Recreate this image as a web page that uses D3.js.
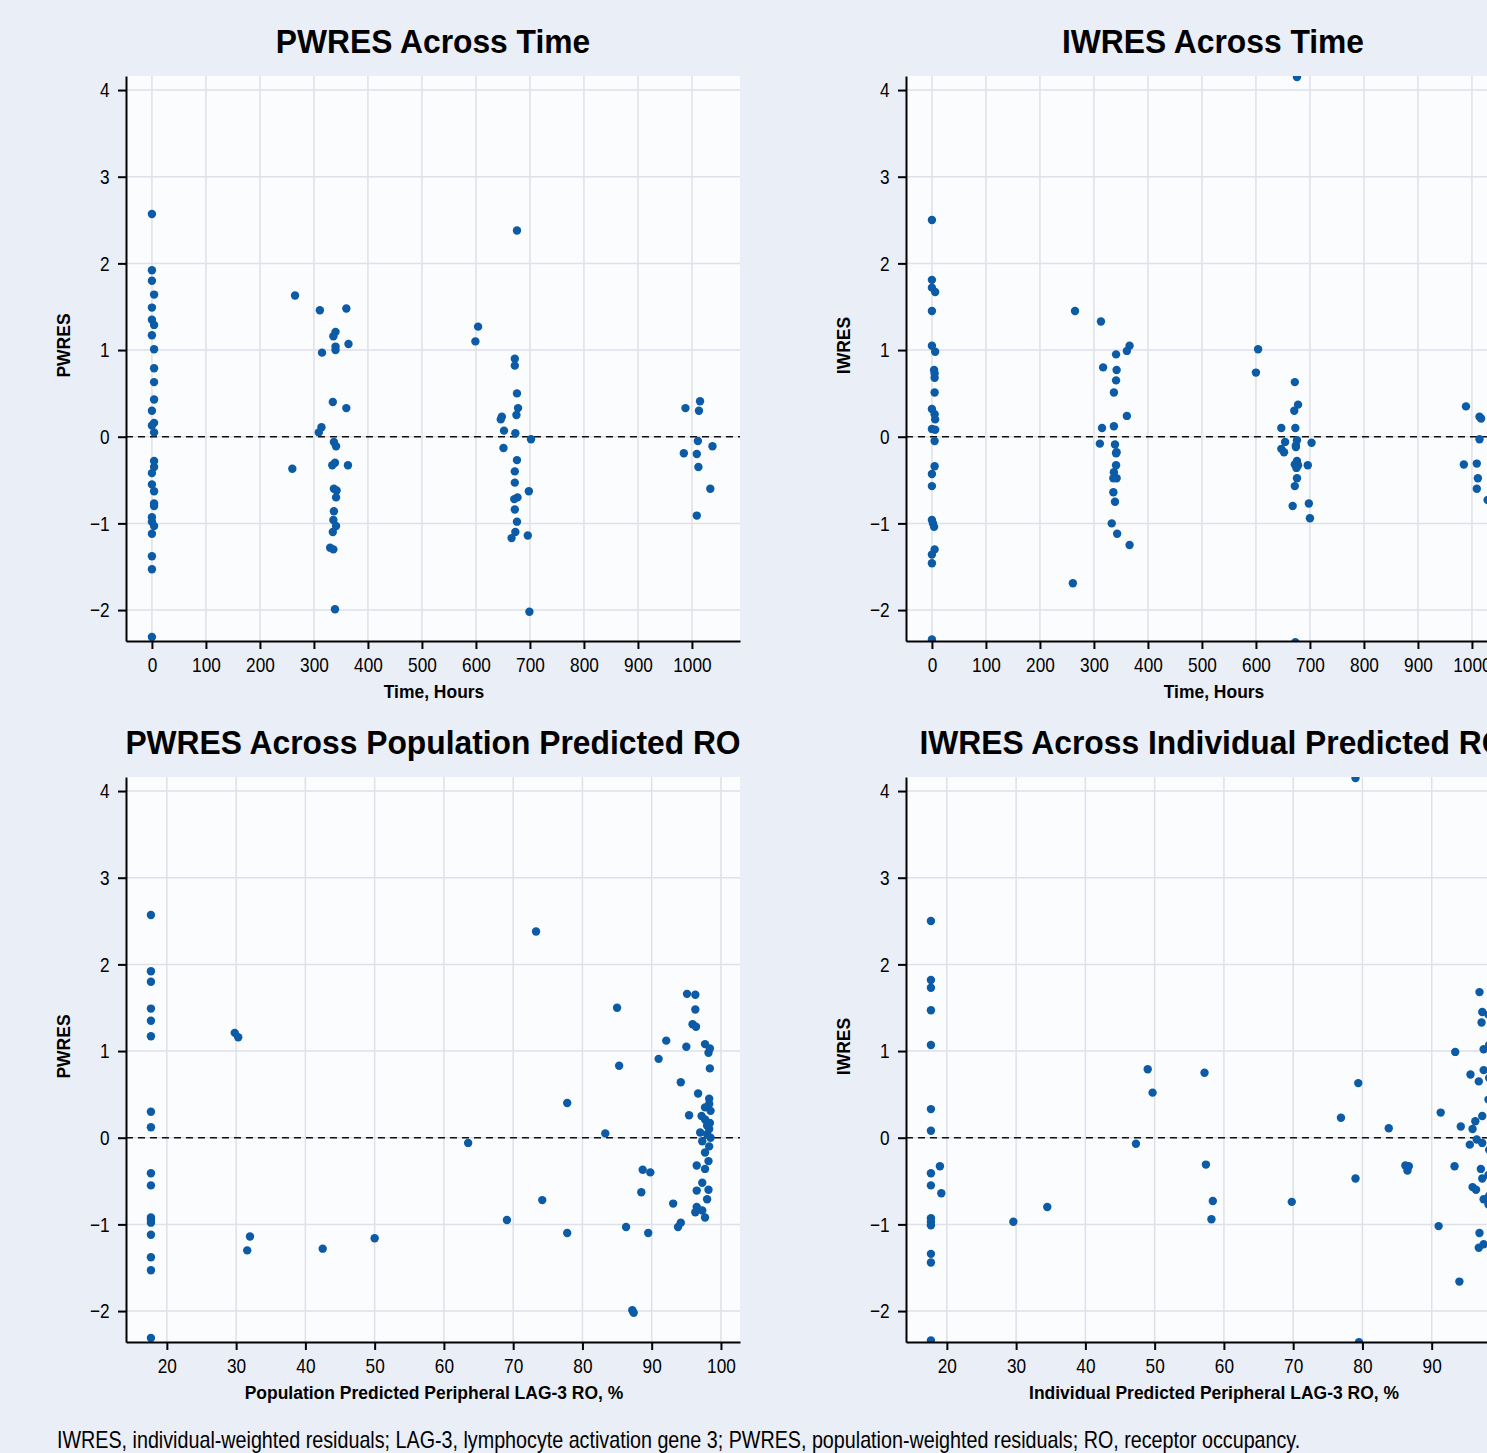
<!DOCTYPE html>
<html>
<head>
<meta charset="utf-8">
<script src="https://cdn.jsdelivr.net/npm/d3@7"></script>
<style>
  html, body { margin: 0; padding: 0; overflow: hidden; background: #eaeef6; }
  svg { display: block; }
  text { font-family: "Liberation Sans", Arial, sans-serif; fill: #000; }
</style>
</head>
<body>
<script>
// ---- tick values ----
const yTicks = [-2, -1, 0, 1, 2, 3, 4];
const timeTicks = [0, 100, 200, 300, 400, 500, 600, 700, 800, 900, 1000];
const roTicks = [20, 30, 40, 50, 60, 70, 80, 90, 100];

// ---- PWRES vs time [hours, PWRES] ----
const pwresByTime = [
  [0,2.57],[0,1.92],[0,1.80],[4,1.64],[0,1.49],[0,1.35],[4,1.29],[0,1.17],[4,1.01],[4,0.79],
  [4,0.63],[4,0.43],[0,0.30],[4,0.16],[0,0.13],[4,0.05],[4,-0.28],[4,-0.35],[0,-0.42],[0,-0.55],
  [4,-0.63],[4,-0.77],[4,-0.80],[0,-0.93],[0,-0.98],[4,-1.03],[0,-1.12],[0,-1.38],[0,-1.53],[0,-2.31],
  [265,1.63],[260,-0.37],[311,1.46],[360,1.48],[340,1.21],[336,1.16],[340,1.04],[340,1.00],[364,1.07],[315,0.97],
  [335,0.40],[360,0.33],[314,0.11],[309,0.05],[337,-0.06],[341,-0.11],[339,-0.30],[334,-0.33],[363,-0.33],[337,-0.60],
  [342,-0.62],[341,-0.70],[337,-0.86],[336,-0.96],[341,-1.03],[335,-1.10],[330,-1.28],[336,-1.30],[339,-1.99],
  [676,2.38],[604,1.27],[599,1.10],[672,0.90],[672,0.82],[676,0.50],[678,0.33],[675,0.25],[648,0.23],[646,0.20],
  [652,0.07],[673,0.04],[702,-0.03],[651,-0.13],[676,-0.27],[672,-0.40],[672,-0.53],[698,-0.63],[677,-0.70],[671,-0.72],
  [672,-0.84],[676,-0.98],[673,-1.10],[666,-1.17],[696,-1.14],[699,-2.02],
  [988,0.33],[1015,0.41],[1013,0.30],[1011,-0.05],[1038,-0.11],[985,-0.19],[1009,-0.20],[1012,-0.35],[1034,-0.60],[1009,-0.91]
];

// ---- IWRES vs time [hours, IWRES] ----
const iwresByTime = [
  [0,2.50],[0,1.81],[0,1.72],[6,1.67],[0,1.45],[0,1.05],[6,0.98],[4,0.77],[5,0.73],[5,0.68],
  [5,0.51],[0,0.32],[5,0.26],[6,0.20],[0,0.09],[6,0.08],[5,-0.05],[5,-0.34],[0,-0.43],[0,-0.57],
  [0,-0.96],[2,-1.00],[4,-1.04],[5,-1.30],[0,-1.36],[0,-1.46],[0,-2.34],
  [265,1.45],[313,1.33],[366,1.05],[361,0.99],[341,0.95],[317,0.80],[342,0.77],[341,0.65],[337,0.51],[361,0.24],
  [315,0.10],[337,0.12],[311,-0.08],[339,-0.09],[342,-0.18],[341,-0.19],[341,-0.33],[337,-0.41],[342,-0.48],[336,-0.48],
  [336,-0.64],[339,-0.75],[333,-1.00],[343,-1.12],[366,-1.25],[261,-1.69],
  [676,4.15],[604,1.01],[600,0.74],[672,0.63],[678,0.37],[671,0.30],[647,0.10],[673,0.10],[654,-0.06],[676,-0.04],
  [703,-0.07],[674,-0.10],[647,-0.14],[652,-0.18],[674,-0.12],[676,-0.28],[672,-0.32],[678,-0.33],[675,-0.36],[696,-0.33],
  [676,-0.48],[672,-0.57],[668,-0.80],[698,-0.77],[700,-0.94],[673,-2.37],
  [989,0.35],[1014,0.23],[1017,0.21],[1014,-0.03],[985,-0.32],[1009,-0.31],[1011,-0.48],[1009,-0.60],[1029,-0.73]
];

// ---- PWRES vs population predicted RO [%, PWRES] ----
const pwresByPredRO = [
  [17.7,2.57],[17.7,1.92],[17.7,1.80],[17.7,1.49],[17.7,1.35],[17.7,1.17],[17.7,0.30],[17.7,0.12],[17.7,-0.41],
  [17.7,-0.55],[17.7,-0.92],[17.7,-0.95],[17.7,-0.98],[17.7,-1.12],[17.7,-1.38],[17.7,-1.53],[17.7,-2.31],
  [29.8,1.21],[30.3,1.16],[32.0,-1.14],[31.6,-1.30],[42.5,-1.28],[50.0,-1.16],[63.5,-0.06],[69.1,-0.95],[73.3,2.38],
  [74.2,-0.72],[77.8,0.40],[77.8,-1.10],[83.3,0.05],[85.0,1.50],[85.3,0.83],[86.3,-1.03],[87.2,-1.99],[87.4,-2.02],
  [88.7,-0.37],[89.8,-0.40],[88.5,-0.63],[89.5,-1.10],[91.0,0.91],[92.1,1.12],[93.1,-0.76],[93.8,-1.03],[94.2,-0.98],
  [94.2,0.64],[95.0,1.05],[95.1,1.66],[95.4,0.26],[95.9,1.31],[96.3,1.65],[96.3,1.48],[96.4,1.28],[96.3,-0.86],
  [96.5,-0.32],[96.5,-0.61],[96.5,-0.80],[96.7,0.51],[97.0,0.06],[97.2,0.25],[97.3,-0.04],[97.3,-0.52],[97.3,-0.84],
  [97.7,1.08],[97.7,0.35],[97.7,0.21],[97.7,-0.17],[97.7,-0.36],[97.7,-0.92],[98.0,0.14],[98.0,0.04],[98.0,-0.71],
  [98.2,0.98],[98.2,-0.27],[98.2,-0.60],[98.3,0.45],[98.3,0.39],[98.3,0.10],[98.3,-0.10],[98.4,1.03],[98.4,0.80],
  [98.4,0.17],[98.5,0.31],[98.5,0.00]
];

// ---- IWRES vs individual predicted RO [%, IWRES] ----
const iwresByIndRO = [
  [17.7,2.50],[17.7,1.82],[17.7,1.73],[17.7,1.47],[17.7,1.07],[17.7,0.33],[17.7,0.08],[17.7,-0.41],[17.7,-0.55],
  [17.7,-0.93],[17.7,-0.97],[17.7,-1.01],[17.7,-1.34],[17.7,-1.44],[17.7,-2.34],
  [19.0,-0.33],[19.2,-0.64],[29.6,-0.97],[34.5,-0.80],[47.3,-0.07],[49.0,0.79],[49.7,0.52],[57.2,0.75],[57.4,-0.31],
  [58.4,-0.73],[58.2,-0.94],[69.8,-0.74],
  [79.4,0.63],[76.9,0.23],[83.8,0.11],[79.0,-0.47],[86.2,-0.32],[86.7,-0.33],[86.5,-0.38],[91.3,0.29],[93.4,0.99],
  [93.3,-0.33],[91.0,-1.02],[94.2,0.13],[95.6,0.73],[96.8,0.65],[96.9,1.68],[97.3,1.45],[97.2,1.33],[97.5,1.02],
  [97.5,0.78],[96.3,0.19],[95.9,0.10],[97.3,0.25],[95.5,-0.08],[96.5,-0.02],[97.3,-0.06],[97.1,-0.36],[97.3,-0.47],
  [95.9,-0.57],[96.4,-0.60],[97.5,-0.71],[96.9,-1.10],[96.8,-1.27],[97.5,-1.23],[94.0,-1.66],[79.0,4.15],[79.5,-2.36],
  [98.2,1.42],[98.3,1.07],[98.3,0.69],[98.2,0.44],[98.3,-0.14],[98.2,-0.43],[98.3,-0.67],[98.2,-0.77]
];

const footnote = "IWRES, individual-weighted residuals; LAG-3, lymphocyte activation gene 3; PWRES, population-weighted residuals; RO, receptor occupancy.";

// ---- layout ----
const W = 1530, H = 1453;
const plotW = 614, plotH = 565;
const yDomain = [-2.357, 4.162];
const timeDomain = [-48, 1089];
const roDomain = [14.1, 102.75];

const panels = [
  { title: "PWRES Across Time", xLabel: "Time, Hours", yLabel: "PWRES",
    data: pwresByTime, xDomain: timeDomain, xTicks: timeTicks, left: 126, top: 76 },
  { title: "IWRES Across Time", xLabel: "Time, Hours", yLabel: "IWRES",
    data: iwresByTime, xDomain: timeDomain, xTicks: timeTicks, left: 906, top: 76 },
  { title: "PWRES Across Population Predicted RO", xLabel: "Population Predicted Peripheral LAG-3 RO, %", yLabel: "PWRES",
    data: pwresByPredRO, xDomain: roDomain, xTicks: roTicks, left: 126, top: 777 },
  { title: "IWRES Across Individual Predicted RO", xLabel: "Individual Predicted Peripheral LAG-3 RO, %", yLabel: "IWRES",
    data: iwresByIndRO, xDomain: roDomain, xTicks: roTicks, left: 906, top: 777 }
];

const style = {
  title: { size: 34, weight: "bold", sx: 0.935 },
  axisLabel: { size: 19, weight: "bold", sx: 0.92 },
  tick: { size: 21, sx: 0.82 },
  note: { size: 23, sx: 0.858 },
  dot: "#0b5ba7",
  grid: "#dfe0e8",
  plotBg: "#fbfcfe"
};

const fmt = d3.format("d");

const svg = d3.select("body").append("svg").attr("width", W).attr("height", H);

// condensed text helper: horizontal squeeze around the anchor point
function squeezedText(parent, str, x, y, s, anchor, rotate) {
  return parent.append("text")
    .attr("transform", `translate(${x},${y})${rotate ? ` rotate(${rotate})` : ""} scale(${s.sx},1)`)
    .attr("text-anchor", anchor)
    .style("font-size", s.size + "px")
    .style("font-weight", s.weight || "normal")
    .text(str);
}

function styleAxis(a) {
  a.select(".domain").attr("stroke", "#000").attr("stroke-width", 2);
  a.selectAll(".tick line").attr("stroke", "#000").attr("stroke-width", 2);
  a.selectAll(".tick text")
    .attr("font-family", null)
    .style("font-size", style.tick.size + "px")
    .attr("fill", "#000")
    .attr("transform", `scale(${style.tick.sx},1)`);
}

panels.forEach((p, i) => {
  const x = d3.scaleLinear().domain(p.xDomain).range([p.left, p.left + plotW]);
  const y = d3.scaleLinear().domain(yDomain).range([p.top + plotH, p.top]);
  const g = svg.append("g");

  g.append("rect")
    .attr("x", p.left).attr("y", p.top)
    .attr("width", plotW).attr("height", plotH)
    .attr("fill", style.plotBg);

  // grid
  g.append("g").selectAll("line").data(p.xTicks).join("line")
    .attr("x1", d => x(d)).attr("x2", d => x(d))
    .attr("y1", p.top).attr("y2", p.top + plotH)
    .attr("stroke", style.grid).attr("stroke-width", 1.5);
  g.append("g").selectAll("line").data(yTicks).join("line")
    .attr("x1", p.left).attr("x2", p.left + plotW)
    .attr("y1", d => y(d)).attr("y2", d => y(d))
    .attr("stroke", style.grid).attr("stroke-width", 1.5);

  // zero reference line
  g.append("line")
    .attr("x1", p.left).attr("x2", p.left + plotW)
    .attr("y1", y(0)).attr("y2", y(0))
    .attr("stroke", "#111").attr("stroke-width", 1.6)
    .attr("stroke-dasharray", "7,5");

  // points, clipped to the plot area
  const clipId = "clip" + i;
  svg.append("clipPath").attr("id", clipId).append("rect")
    .attr("x", p.left).attr("y", p.top).attr("width", plotW).attr("height", plotH);
  g.append("g").attr("clip-path", `url(#${clipId})`)
    .selectAll("circle").data(p.data).join("circle")
    .attr("cx", d => x(d[0])).attr("cy", d => y(d[1]))
    .attr("r", 4.2).attr("fill", style.dot);

  // axes
  const xAxis = g.append("g").attr("transform", `translate(0,${p.top + plotH})`)
    .call(d3.axisBottom(x).tickValues(p.xTicks).tickFormat(fmt)
      .tickSize(8).tickSizeOuter(0).tickPadding(8));
  const yAxis = g.append("g").attr("transform", `translate(${p.left},0)`)
    .call(d3.axisLeft(y).tickValues(yTicks).tickFormat(fmt)
      .tickSize(8).tickSizeOuter(0).tickPadding(12));
  styleAxis(xAxis);
  styleAxis(yAxis);

  // titles and labels
  const cx = p.left + plotW / 2;
  squeezedText(g, p.title, cx, p.top - 23, style.title, "middle");
  squeezedText(g, p.xLabel, cx + 1, p.top + plotH + 57, style.axisLabel, "middle");
  squeezedText(g, p.yLabel, p.left - 56, p.top + plotH / 2 - 13, style.axisLabel, "middle", -90);
});

squeezedText(svg, footnote, 57, 1448, style.note, "start");
</script>
</body>
</html>
